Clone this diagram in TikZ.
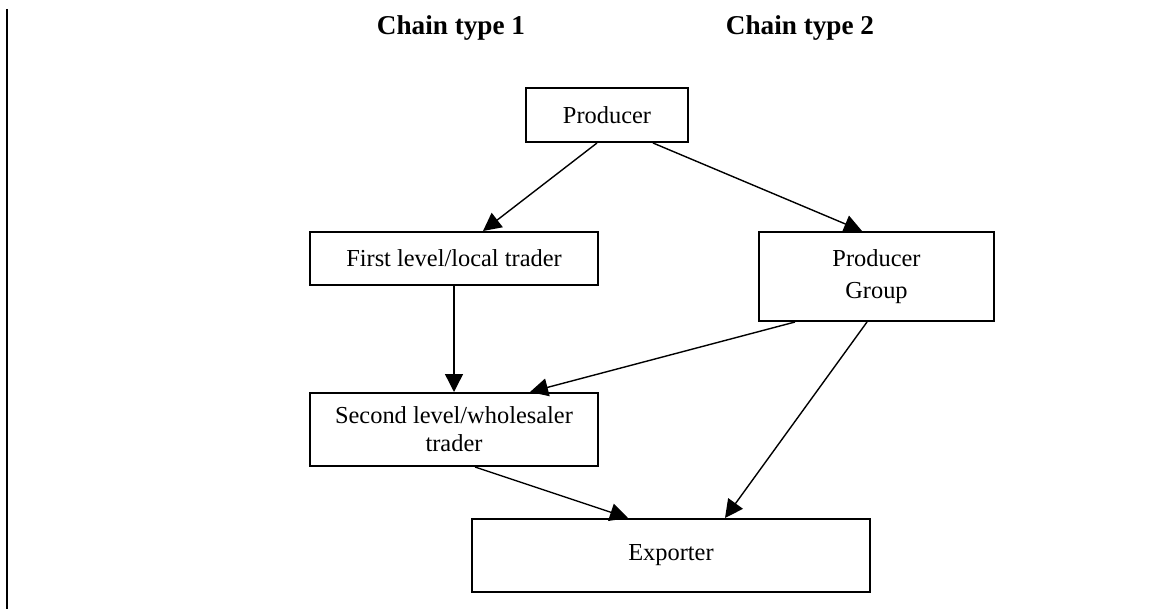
\documentclass[tikz,border=0pt]{standalone}
\usepackage{fontspec}
\setmainfont{Liberation Serif}
\usetikzlibrary{arrows.meta}
\begin{document}
\begin{tikzpicture}[x=0.5pt,y=-0.5pt,
  box/.style={draw,line width=1pt,align=center,inner sep=0pt,
    font=\fontsize{12.2}{14}\selectfont},
  flow/.style={line width=0.7pt,-{Triangle[length=9pt,width=9pt]}},
  chain/.style={font=\fontsize{13.6}{16}\selectfont\bfseries}]
\useasboundingbox (0,0) rectangle (1161,609);
\draw[line width=1pt] (7,9) -- (7,609);

\node[chain] (type1) at (451,28) {Chain type 1};
\node[chain] (type2) at (800,28) {Chain type 2};

\node[box,minimum width=81pt,minimum height=27pt] (prod) at (607,115) {Producer};
\node[box,minimum width=144pt,minimum height=26.5pt] (first) at (454,258.5) {First level/local trader};
\node[box,minimum width=117.5pt,minimum height=44.5pt,
  font=\fontsize{12.2}{16}\selectfont] (group) at (876.5,276.5) {Producer\\Group};
\node[box,minimum width=144pt,minimum height=36.5pt] (second) at (454,429.5) {Second level/wholesaler\\trader};
\node[box,minimum width=199pt,minimum height=36.5pt] (exp) at (671,555.5) {Exporter};

\draw[flow] ([xshift=-5pt]prod.south) -- ([xshift=14.5pt]first.north);
\draw[flow] ([xshift=23pt]prod.south) -- ([xshift=-7.25pt]group.north);
\draw[flow] (first.south) -- (second.north);
\draw[flow] ([xshift=-40.75pt]group.south) -- ([xshift=38pt]second.north);
\draw[flow] ([xshift=-4.75pt]group.south) -- ([xshift=27pt]exp.north);
\draw[flow] ([xshift=10.5pt]second.south) -- ([xshift=-21.5pt]exp.north);
\end{tikzpicture}
\end{document}
